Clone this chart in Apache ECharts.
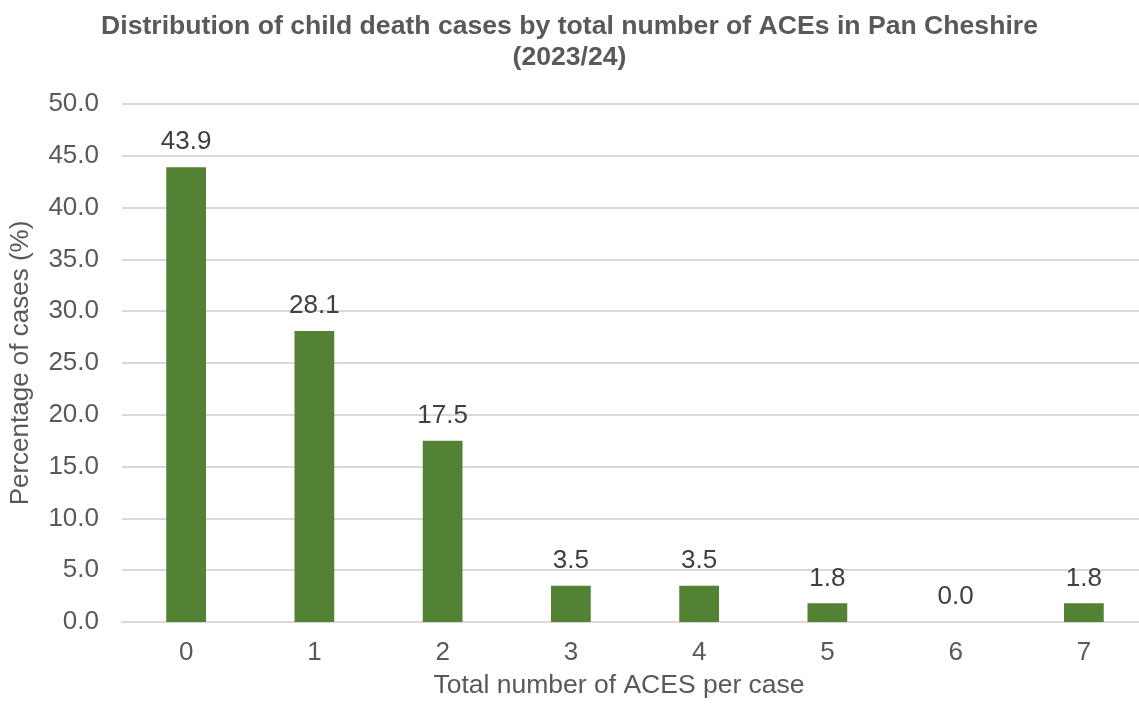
<!DOCTYPE html>
<html>
<head>
<meta charset="utf-8">
<title>Distribution of child death cases by total number of ACEs</title>
<script src="https://cdn.jsdelivr.net/npm/echarts@6/dist/echarts.min.js"></script>
<style>
  html, body { margin: 0; padding: 0; background: #ffffff; overflow: hidden; }
  /* The plot runs slightly past the right edge of the window */
  #chart { width: 1160px; height: 704px; }
</style>
</head>
<body>
<div id="chart"></div>
<script>
// Number of ACEs recorded per case
const categories = ['0', '1', '2', '3', '4', '5', '6', '7'];
// Share of child death cases (%) for each ACE count
const percentages = [43.9, 28.1, 17.5, 3.5, 3.5, 1.8, 0.0, 1.8];

const titleLines = [
  'Distribution of child death cases by total number of ACEs in Pan Cheshire',
  '(2023/24)'
];
const xAxisName = 'Total number of ACES per case';
const yAxisName = 'Percentage of cases (%)';

const FONT = '"Liberation Sans", Arial, sans-serif';
const GREY = '#595959';
const PAGE_CENTER = 569.5;

const chart = echarts.init(document.getElementById('chart'), null, { renderer: 'canvas' });

chart.setOption({
  backgroundColor: '#ffffff',
  animation: false,
  // Two-line title, each line centred on the page
  graphic: titleLines.map((line, i) => ({
    type: 'text',
    x: PAGE_CENTER,
    y: 13 + i * 31,
    style: {
      text: line,
      textAlign: 'center',
      textVerticalAlign: 'top',
      fontFamily: FONT,
      fontSize: 26.6,
      fontWeight: 'bold',
      fill: GREY
    }
  })),
  grid: {
    left: 120,
    top: 104,
    width: 1028,
    height: 520,
    containLabel: false
  },
  xAxis: {
    type: 'category',
    data: categories,
    name: xAxisName,
    nameLocation: 'middle',
    nameGap: 50,
    nameTextStyle: {
      fontFamily: FONT,
      fontSize: 26.5,
      color: GREY,
      padding: [0, 32, 0, 0]
    },
    axisLine: { show: true, lineStyle: { color: '#d9d9d9', width: 2 } },
    axisTick: { show: false },
    axisLabel: {
      fontFamily: FONT,
      fontSize: 26,
      color: GREY,
      margin: 18
    }
  },
  yAxis: {
    type: 'value',
    min: 0,
    max: 50,
    interval: 5,
    name: yAxisName,
    nameLocation: 'middle',
    nameGap: 88,
    nameRotate: 90,
    nameTextStyle: {
      fontFamily: FONT,
      fontSize: 26,
      color: GREY
    },
    axisLine: { show: false },
    axisTick: { show: false },
    axisLabel: {
      fontFamily: FONT,
      fontSize: 26,
      color: GREY,
      margin: 23,
      formatter: v => v.toFixed(1)
    },
    splitLine: { show: true, lineStyle: { color: '#d9d9d9', width: 2 } }
  },
  series: [{
    type: 'bar',
    data: percentages,
    barWidth: '31%',
    itemStyle: { color: '#548235' },
    label: {
      show: true,
      position: 'top',
      distance: 12,
      fontFamily: FONT,
      fontSize: 26,
      color: '#404040',
      formatter: p => p.value.toFixed(1)
    }
  }]
});
</script>
</body>
</html>
